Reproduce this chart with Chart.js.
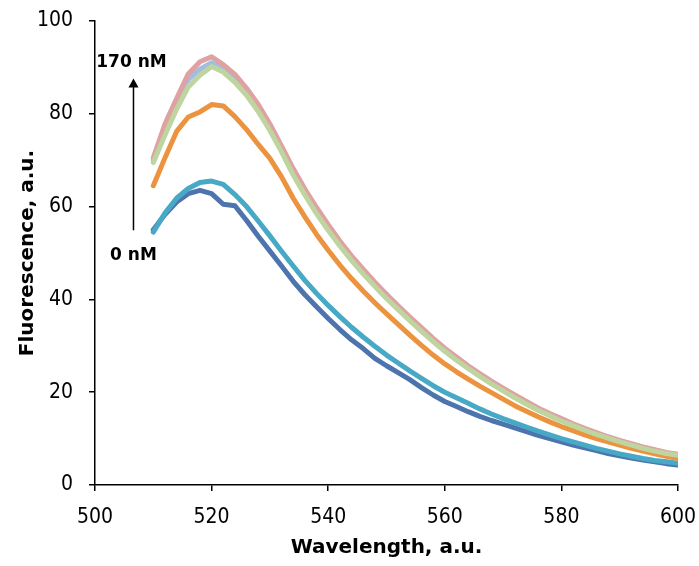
<!DOCTYPE html>
<html>
<head>
<meta charset="utf-8">
<script src="https://cdn.jsdelivr.net/npm/chart.js@4"></script>
<style>
  html, body { margin: 0; padding: 0; background: #fff; }
  #wrap { width: 699px; height: 566px; }
</style>
</head>
<body>
<div id="wrap"><canvas id="c" width="699" height="566"></canvas></div>
<script>
// Wavelength grid (nm)
const wavelengths = [510,512,514,516,518,520,522,524,526,528,530,532,534,536,538,540,542,544,546,548,550,552,554,556,558,560,562,564,566,568,570,572,574,576,578,580,582,584,586,588,590,592,594,596,598,600];

// Series (fluorescence, a.u.)
const s0nM = [55.0,58.3,61.0,62.8,63.5,62.8,60.5,60.2,57.0,53.6,50.4,47.2,43.9,41.0,38.4,35.9,33.5,31.3,29.4,27.3,25.7,24.2,22.7,21.0,19.4,18.0,16.9,15.8,14.8,13.9,13.1,12.3,11.5,10.7,10.0,9.3,8.6,8.0,7.4,6.8,6.3,5.8,5.4,5.0,4.6,4.3];
const sTeal = [54.5,58.6,61.8,63.9,65.2,65.5,64.8,62.6,60.0,56.9,53.7,50.4,47.2,44.1,41.3,38.7,36.3,34.0,31.9,29.9,28.0,26.3,24.6,23.0,21.4,20.0,18.8,17.6,16.4,15.3,14.3,13.4,12.5,11.6,10.8,10.0,9.3,8.6,7.9,7.3,6.7,6.2,5.7,5.3,5.0,4.7];
const sOrange = [64.5,70.5,76.2,79.3,80.4,82.0,81.7,79.4,76.6,73.4,70.4,66.4,61.8,57.8,54.0,50.6,47.4,44.5,41.8,39.3,36.9,34.6,32.3,30.1,28.0,26.1,24.4,22.8,21.3,19.9,18.5,17.1,15.9,14.7,13.6,12.6,11.7,10.8,10.0,9.3,8.6,7.9,7.3,6.7,6.2,5.7];
const sLightBlue = [70.0,76.6,82.6,87.4,89.6,91.0,89.7,87.3,84.5,80.9,76.8,72.3,67.4,63.1,59.1,55.5,52.0,48.9,46.0,43.2,40.6,38.2,35.8,33.5,31.2,29.1,27.2,25.4,23.7,22.1,20.6,19.1,17.7,16.4,15.2,14.0,13.0,12.0,11.1,10.3,9.5,8.8,8.1,7.5,6.9,6.5];
const sPink = [70.5,77.8,83.3,88.6,91.2,92.3,90.6,88.5,85.5,82.0,77.8,73.0,68.2,63.8,59.8,56.1,52.6,49.4,46.5,43.7,41.1,38.6,36.2,33.9,31.6,29.5,27.6,25.7,24.0,22.4,20.9,19.4,18.0,16.6,15.4,14.3,13.2,12.2,11.3,10.4,9.6,8.9,8.2,7.6,7.0,6.6];
const sGreen = [69.5,75.4,81.0,85.8,88.3,90.2,89.0,86.8,84.0,80.5,76.4,71.8,66.8,62.5,58.5,54.9,51.5,48.4,45.5,42.8,40.2,37.8,35.4,33.1,30.9,28.8,26.9,25.1,23.4,21.8,20.3,18.8,17.4,16.1,14.9,13.8,12.8,11.8,10.9,10.1,9.3,8.6,7.9,7.3,6.8,6.4];

// Axis ticks
const xTicks = [500, 520, 540, 560, 580, 600];
const yTicks = [0, 20, 40, 60, 80, 100];

// Annotation (data units)
const arrowX = 506.6, arrowFrom = 54.9, arrowTo = 87.6;
const labelTop = "170 nM", labelTopY = 91.0;
const labelBottom = "0 nM", labelBottomY = 49.5;

const FONT = "'DejaVu Sans Condensed', 'DejaVu Sans', sans-serif";
const FONT_B = "'DejaVu Sans', sans-serif";

function pts(arr) { return arr.map((v, i) => ({ x: wavelengths[i], y: v })); }

const seriesDefs = [
  { data: s0nM, color: '#4e74ae', order: 5 },
  { data: sTeal, color: '#47a9c5', order: 4 },
  { data: sOrange, color: '#ec933f', order: 3 },
  { data: sLightBlue, color: '#a2bde2', order: 2 },
  { data: sPink, color: '#dda2a1', order: 1 },
  { data: sGreen, color: '#bfd59f', order: 0 }
];

const bgPlugin = {
  id: 'bg',
  beforeDraw(chart) {
    const ctx = chart.ctx;
    ctx.save();
    ctx.fillStyle = '#fff';
    ctx.fillRect(0, 0, chart.width, chart.height);
    ctx.restore();
  }
};

const annotPlugin = {
  id: 'annot',
  afterDraw(chart) {
    const ctx = chart.ctx;
    const xs = chart.scales.x, ys = chart.scales.y;
    const px = xs.getPixelForValue(arrowX);
    const yb = ys.getPixelForValue(arrowFrom);
    const yt = ys.getPixelForValue(arrowTo);
    ctx.save();
    ctx.strokeStyle = '#000';
    ctx.fillStyle = '#000';
    ctx.lineWidth = 1.5;
    ctx.beginPath();
    ctx.moveTo(px, yb);
    ctx.lineTo(px, yt + 7);
    ctx.stroke();
    ctx.beginPath();
    ctx.moveTo(px, yt);
    ctx.lineTo(px - 5, yt + 9);
    ctx.lineTo(px + 5, yt + 9);
    ctx.closePath();
    ctx.fill();
    ctx.font = "bold 17px " + FONT_B;
    ctx.textAlign = 'center';
    ctx.textBaseline = 'middle';
    ctx.fillText(labelTop, px - 2, ys.getPixelForValue(labelTopY));
    ctx.fillText(labelBottom, px, ys.getPixelForValue(labelBottomY));
    ctx.restore();
  }
};

new Chart(document.getElementById('c'), {
  type: 'line',
  data: {
    datasets: seriesDefs.map(s => ({
      data: pts(s.data),
      borderColor: s.color,
      backgroundColor: s.color,
      borderWidth: 5,
      pointRadius: 0,
      tension: 0,
      fill: false,
      borderJoinStyle: 'round',
      borderCapStyle: 'round',
      order: s.order
    }))
  },
  options: {
    responsive: false,
    animation: false,
    devicePixelRatio: 1,
    layout: { padding: { top: 21, right: 21, left: 0, bottom: 0 } },
    plugins: { legend: { display: false }, tooltip: { enabled: false } },
    scales: {
      x: {
        type: 'linear',
        min: 500, max: 600,
        afterBuildTicks(scale) { scale.ticks = xTicks.map(v => ({ value: v })); },
        afterFit(scale) { scale.height = 81; scale.paddingLeft = 0; scale.paddingRight = 0; },
        grid: { drawOnChartArea: false, drawTicks: true, tickLength: 6, color: '#000', lineWidth: 1.5 },
        border: { display: true, color: '#000', width: 1.5 },
        ticks: { color: '#000', font: { family: FONT, size: 21 }, padding: 14, maxRotation: 0 },
        title: { display: true, text: 'Wavelength, a.u.', color: '#000', font: { family: FONT_B, size: 20, weight: 'bold' }, padding: { top: 0, bottom: 6 } }
      },
      y: {
        min: 0, max: 100,
        afterBuildTicks(scale) { scale.ticks = yTicks.map(v => ({ value: v })); },
        afterFit(scale) { scale.width = 95; scale.paddingTop = 0; scale.paddingBottom = 0; },
        grid: { drawOnChartArea: false, drawTicks: true, tickLength: 6, color: '#000', lineWidth: 1.5 },
        border: { display: true, color: '#000', width: 1.5 },
        ticks: { color: '#000', font: { family: FONT, size: 21 }, padding: 16 },
        title: { display: true, text: 'Fluorescence, a.u.', color: '#000', font: { family: FONT_B, size: 20, weight: 'bold' }, padding: { top: 16, bottom: 0 } }
      }
    }
  },
  plugins: [bgPlugin, annotPlugin]
});
</script>
</body>
</html>
